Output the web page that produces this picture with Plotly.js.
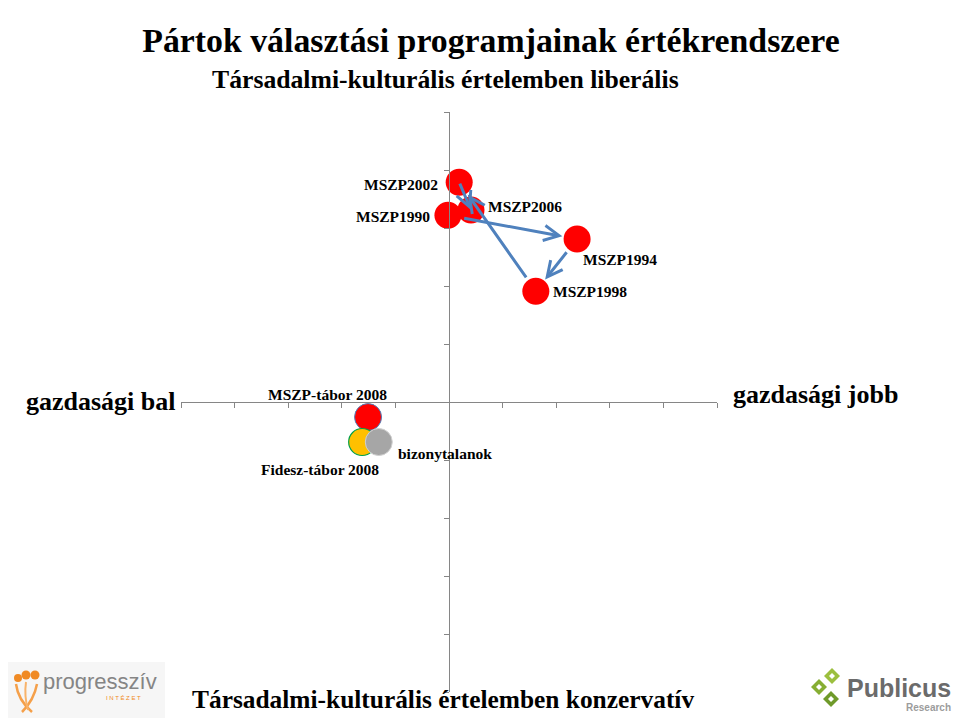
<!DOCTYPE html>
<html>
<head>
<meta charset="utf-8">
<script src="https://cdn.plot.ly/plotly-3.0.1.min.js"></script>
<style>html,body{margin:0;padding:0;background:#fff;}#chart{width:960px;height:720px;}</style>
</head>
<body>
<div id="chart"></div>
<script>
// ---- data ----
const mszpLabels = ['MSZP1990', 'MSZP1994', 'MSZP1998', 'MSZP2002', 'MSZP2006'];
const mszpX = [-0.02, 2.39, 1.62, 0.19, 0.41];
const mszpY = [3.22, 2.81, 1.91, 3.79, 3.31];

const campLabels = ['MSZP-tábor 2008', 'Fidesz-tábor 2008', 'bizonytalanok'];
const campX = [-1.51, -1.62, -1.31];
const campY = [-0.26, -0.69, -0.69];

const titleText = 'Pártok választási programjainak értékrendszere';
const topLabel = 'Társadalmi-kulturális értelemben liberális';
const bottomLabel = 'Társadalmi-kulturális értelemben konzervatív';
const leftLabel = 'gazdasági bal';
const rightLabel = 'gazdasági jobb';

// ---- layout geometry ----
const L = 181, R = 717, T = 112, B = 692;
const PX = (X) => (X - L) / (R - L);
const PY = (Y) => (B - Y) / (B - T);
const unitX = (R - L) / 10, unitY = (B - T) / 10;

const serif = 'Liberation Serif, Times New Roman, serif';
const sans = 'Liberation Sans, Arial, sans-serif';
const red = '#FF0000';
const arrowBlue = '#4F81BD';

const traces = [
  { type: 'scatter', mode: 'markers', x: mszpX, y: mszpY, hoverinfo: 'text', text: mszpLabels,
    marker: { size: 27, color: red, line: { width: 0 } }, showlegend: false },
  { type: 'scatter', mode: 'markers', x: [campX[0]], y: [campY[0]], text: [campLabels[0]], hoverinfo: 'text',
    marker: { size: 27, color: red, line: { width: 1, color: '#4F81BD' } }, showlegend: false },
  { type: 'scatter', mode: 'markers', x: [campX[1]], y: [campY[1]], text: [campLabels[1]], hoverinfo: 'text',
    marker: { size: 27, color: '#FFC000', line: { width: 1.2, color: '#00A04A' } }, showlegend: false },
  { type: 'scatter', mode: 'markers', x: [campX[2]], y: [campY[2]], text: [campLabels[2]], hoverinfo: 'text',
    marker: { size: 27, color: '#A6A6A6', line: { width: 1, color: '#D0D0D0' } }, showlegend: false }
];

const annotations = [];

// arrows connecting consecutive MSZP programmes (chronological order)
const order = ['MSZP1990', 'MSZP1994', 'MSZP1998', 'MSZP2002', 'MSZP2006'];
for (let i = 0; i < order.length - 1; i++) {
  const a = mszpLabels.indexOf(order[i]), b = mszpLabels.indexOf(order[i + 1]);
  const dx = (mszpX[b] - mszpX[a]) * unitX, dy = (mszpY[b] - mszpY[a]) * unitY;
  const dist = Math.sqrt(dx * dx + dy * dy);
  const gap = dist > 50 ? 15 : 0;
  annotations.push({
    x: mszpX[b], y: mszpY[b], xref: 'x', yref: 'y',
    ax: mszpX[a], ay: mszpY[a], axref: 'x', ayref: 'y',
    showarrow: true, arrowhead: 5, arrowsize: 1, arrowwidth: 3, arrowcolor: arrowBlue,
    standoff: gap, startstandoff: gap, text: ''
  });
}

// point labels
const mszpLabelStyle = {
  'MSZP1990': { xanchor: 'right', xshift: -16, yshift: -1 },
  'MSZP1994': { xanchor: 'left', xshift: 4, yshift: -20 },
  'MSZP1998': { xanchor: 'left', xshift: 15, yshift: 0 },
  'MSZP2002': { xanchor: 'right', xshift: -19, yshift: -2 },
  'MSZP2006': { xanchor: 'left', xshift: 15, yshift: 4 }
};
mszpLabels.forEach((lab, i) => {
  const s = mszpLabelStyle[lab];
  annotations.push({ x: mszpX[i], y: mszpY[i], xref: 'x', yref: 'y', text: '<b>' + lab + '</b>',
    showarrow: false, xanchor: s.xanchor, yanchor: 'middle', xshift: s.xshift, yshift: s.yshift,
    font: { family: serif, size: 15.5, color: '#000' } });
});
const campLabelStyle = [
  { xanchor: 'center', xshift: -41, yshift: 23 },
  { xanchor: 'center', xshift: -42, yshift: -27 },
  { xanchor: 'left', xshift: 17, yshift: -11 }
];
campLabels.forEach((lab, i) => {
  const s = campLabelStyle[i];
  annotations.push({ x: campX[i], y: campY[i], xref: 'x', yref: 'y', text: '<b>' + lab + '</b>',
    showarrow: false, xanchor: s.xanchor, yanchor: 'middle', xshift: s.xshift, yshift: s.yshift,
    font: { family: serif, size: 15.5, color: '#000' } });
});

// axis end labels
annotations.push(
  { xref: 'paper', yref: 'paper', x: PX(445), y: PY(80), text: '<b>' + topLabel + '</b>', showarrow: false,
    xanchor: 'center', yanchor: 'middle', font: { family: serif, size: 25.7, color: '#000' } },
  { xref: 'paper', yref: 'paper', x: PX(443), y: PY(699), text: '<b>' + bottomLabel + '</b>', showarrow: false,
    xanchor: 'center', yanchor: 'middle', font: { family: serif, size: 25.4, color: '#000' } },
  { xref: 'paper', yref: 'paper', x: PX(178), y: PY(401), text: '<b>' + leftLabel + '</b>', showarrow: false,
    xanchor: 'right', yanchor: 'middle', font: { family: serif, size: 26, color: '#000' } },
  { xref: 'paper', yref: 'paper', x: PX(731), y: PY(394), text: '<b>' + rightLabel + '</b>', showarrow: false,
    xanchor: 'left', yanchor: 'middle', font: { family: serif, size: 26, color: '#000' } }
);

// logos (decorative)
const shapes = [];
// progresszív logo
shapes.push({ type: 'rect', xref: 'paper', yref: 'paper', x0: PX(8), x1: PX(165), y0: PY(718), y1: PY(662),
  fillcolor: '#F6F6F6', line: { width: 0 }, layer: 'below' });
[[18, 678, 4], [26, 675, 4.5], [35, 675, 4.5]].forEach(c => {
  shapes.push({ type: 'circle', xref: 'paper', yref: 'paper', x0: PX(c[0] - c[2]), x1: PX(c[0] + c[2]),
    y0: PY(c[1] + c[2]), y1: PY(c[1] - c[2]), fillcolor: '#F08A24', line: { width: 0 } });
});
function pathPx(pts) {
  return pts.map((p, i) => (i === 0 ? 'M' : (p.length === 4 ? 'Q' : 'L')) +
    (p.length === 4 ? PX(p[0]) + ',' + PY(p[1]) + ' ' + PX(p[2]) + ',' + PY(p[3]) : PX(p[0]) + ',' + PY(p[1]))).join(' ');
}
shapes.push({ type: 'path', xref: 'paper', yref: 'paper', path: pathPx([[16, 684], [18, 700, 32, 712]]),
  line: { color: '#F5A04A', width: 2.5 } });
shapes.push({ type: 'path', xref: 'paper', yref: 'paper', path: pathPx([[37, 684], [34, 700, 22, 712]]),
  line: { color: '#F5A04A', width: 2.5 } });
shapes.push({ type: 'path', xref: 'paper', yref: 'paper', path: pathPx([[26, 682], [24, 696, 28, 710]]),
  line: { color: '#F8B36A', width: 2 } });
annotations.push(
  { xref: 'paper', yref: 'paper', x: PX(41), y: PY(681), text: 'progresszív', showarrow: false,
    xanchor: 'left', yanchor: 'middle', font: { family: sans, size: 22, color: '#858585' } },
  { xref: 'paper', yref: 'paper', x: PX(123), y: PY(698), text: 'I N T É Z E T', showarrow: false,
    xanchor: 'center', yanchor: 'middle', font: { family: sans, size: 6, color: '#F08A24' } }
);
// Publicus logo
function diamond(cx, cy, r, fill) {
  return { type: 'path', xref: 'paper', yref: 'paper', fillcolor: fill, line: { width: 0 },
    path: 'M' + PX(cx) + ',' + PY(cy - r) + ' L' + PX(cx + r) + ',' + PY(cy) + ' L' + PX(cx) + ',' + PY(cy + r) +
      ' L' + PX(cx - r) + ',' + PY(cy) + ' Z' };
}
[[832, 676, '#9CBF3E'], [819, 687, '#86AE33'], [831, 699, '#6F9A2A']].forEach(d => {
  shapes.push(diamond(d[0], d[1], 8, d[2]));
  shapes.push(diamond(d[0], d[1], 3, '#FFFFFF'));
});
annotations.push(
  { xref: 'paper', yref: 'paper', x: PX(845), y: PY(688), text: '<b>Publicus</b>', showarrow: false,
    xanchor: 'left', yanchor: 'middle', font: { family: sans, size: 25, color: '#6B6B6B' } },
  { xref: 'paper', yref: 'paper', x: PX(953), y: PY(707), text: '<b>Research</b>', showarrow: false,
    xanchor: 'right', yanchor: 'middle', font: { family: sans, size: 10, color: '#9C9C9C' } }
);

const axisCommon = {
  range: [-5, 5], dtick: 1, tick0: 0, showticklabels: false, ticks: 'outside', ticklen: 5,
  tickcolor: '#868686', tickwidth: 1, showline: true, linecolor: '#868686', linewidth: 1,
  showgrid: false, zeroline: false, anchor: 'free', position: 0.5, fixedrange: true
};

const layout = {
  width: 960, height: 720,
  margin: { l: L, r: 960 - R, t: T, b: 720 - B, pad: 0 },
  paper_bgcolor: '#FFFFFF', plot_bgcolor: 'rgba(0,0,0,0)',
  title: { text: '<b>' + titleText + '</b>', xref: 'container', yref: 'container',
    x: 491 / 960, y: 1 - 40 / 720, xanchor: 'center', yanchor: 'middle',
    font: { family: serif, size: 33.8, color: '#000' } },
  xaxis: Object.assign({}, axisCommon),
  yaxis: Object.assign({}, axisCommon),
  showlegend: false,
  annotations: annotations,
  shapes: shapes
};

Plotly.newPlot('chart', traces, layout, { displayModeBar: false, staticPlot: true });
</script>
</body>
</html>
